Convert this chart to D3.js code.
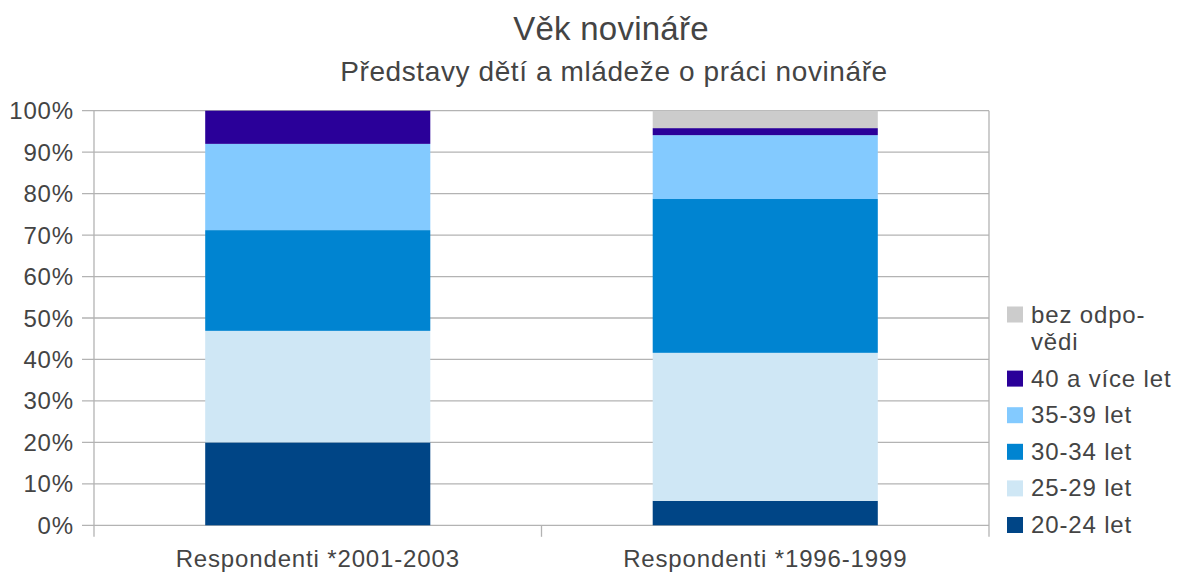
<!DOCTYPE html>
<html>
<head>
<meta charset="utf-8">
<script src="https://cdn.jsdelivr.net/npm/d3@7"></script>
<style>
  body { margin: 0; background: #fff; }
  text { font-family: "Liberation Sans", Arial, sans-serif; fill: #444; }
  .lbl { font-size: 24px; letter-spacing: 0.85px; }
</style>
</head>
<body>
<svg id="chart" width="1178" height="573"></svg>
<script>
// categories (x axis)
const categories = ["Respondenti *2001-2003", "Respondenti *1996-1999"];

// series, bottom to top of the stack
const seriesNames = ["20-24 let", "25-29 let", "30-34 let", "35-39 let", "40 a více let", "bez odpovědi"];
const seriesColors = ["#004586", "#cfe7f5", "#0084d1", "#83caff", "#2a0099", "#cccccc"];

// percentage values per series, one per category
const age2024 = [20.0, 5.9];
const age2529 = [26.9, 35.7];
const age3034 = [24.3, 37.1];
const age3539 = [20.8, 15.4];
const age40plus = [8.0, 1.7];
const noAnswer = [0.0, 4.2];

const yTicks = [0, 10, 20, 30, 40, 50, 60, 70, 80, 90, 100];

const seriesValues = [age2024, age2529, age3034, age3539, age40plus, noAnswer];

// build rows for d3.stack
const rows = categories.map((c, i) => {
  const r = { cat: c };
  seriesNames.forEach((s, j) => { r[s] = seriesValues[j][i]; });
  return r;
});

const svg = d3.select("#chart");
const margin = { left: 94, right: 189, top: 110.7, bottom: 47.7 };
const W = 1178, H = 573;

const x = d3.scaleBand()
  .domain(categories)
  .range([margin.left, W - margin.right])
  .paddingInner(0)
  .paddingOuter(0);

const y = d3.scaleLinear()
  .domain([0, 100])
  .range([H - margin.bottom, margin.top]);

const gridColor = "#b3b3b3";

// horizontal gridlines
svg.append("g")
  .selectAll("line")
  .data(yTicks)
  .join("line")
  .attr("x1", margin.left - 12)
  .attr("x2", W - margin.right)
  .attr("y1", d => y(d))
  .attr("y2", d => y(d))
  .attr("stroke", gridColor)
  .attr("stroke-width", 1.3);

// y labels
svg.append("g")
  .selectAll("text")
  .data(yTicks)
  .join("text")
  .attr("class", "lbl")
  .attr("x", 74)
  .attr("y", d => y(d) + 8.5)
  .attr("text-anchor", "end")
  .text(d => d + "%");

// stacked bars
const stack = d3.stack().keys(seriesNames);
const stacked = stack(rows);
const barW = x.bandwidth() * 0.503;

svg.append("g")
  .selectAll("g")
  .data(stacked)
  .join("g")
  .attr("fill", (d, i) => seriesColors[i])
  .selectAll("rect")
  .data(d => d)
  .join("rect")
  .attr("x", d => x(d.data.cat) + (x.bandwidth() - barW) / 2)
  .attr("width", barW)
  .attr("y", d => y(d[1]))
  .attr("height", d => y(d[0]) - y(d[1]));

// axis lines: left axis, right border, category ticks
const catEdges = categories.map(c => x(c)).concat([x.range()[1]]);
svg.append("g")
  .selectAll("line")
  .data(catEdges)
  .join("line")
  .attr("x1", d => d)
  .attr("x2", d => d)
  .attr("y1", (d, i) => (i === 1 ? y(0) : y(100)))
  .attr("y2", y(0) + 11.5)
  .attr("stroke", gridColor)
  .attr("stroke-width", 1.3);

// x labels
svg.append("g")
  .selectAll("text")
  .data(categories)
  .join("text")
  .attr("class", "lbl")
  .attr("x", d => x(d) + x.bandwidth() / 2)
  .attr("y", 567)
  .attr("text-anchor", "middle")
  .text(d => d);

// titles
svg.append("text")
  .attr("x", 611)
  .attr("y", 40)
  .attr("text-anchor", "middle")
  .style("font-size", "33px")
  .style("letter-spacing", "0.25px")
  .text("Věk novináře");

svg.append("text")
  .attr("x", 614)
  .attr("y", 81)
  .attr("text-anchor", "middle")
  .style("font-size", "28px")
  .style("letter-spacing", "0.6px")
  .text("Představy dětí a mládeže o práci novináře");

// legend, bottom entry first
const legendLines = [["20-24 let"], ["25-29 let"], ["30-34 let"], ["35-39 let"], ["40 a více let"], ["bez odpo-", "vědi"]];
const legend = svg.append("g");
const baseY = 533, step = 36.6, lineH = 27.5;

legendLines.forEach((lines, i) => {
  const lastBase = baseY - step * i;
  const firstBase = lastBase - lineH * (lines.length - 1);
  legend.append("rect")
    .attr("x", 1007)
    .attr("y", firstBase - 16)
    .attr("width", 16)
    .attr("height", 16)
    .attr("fill", seriesColors[i]);
  lines.forEach((t, k) => {
    legend.append("text")
      .attr("class", "lbl")
      .attr("x", 1031)
      .attr("y", firstBase + lineH * k)
      .text(t);
  });
});
</script>
</body>
</html>
